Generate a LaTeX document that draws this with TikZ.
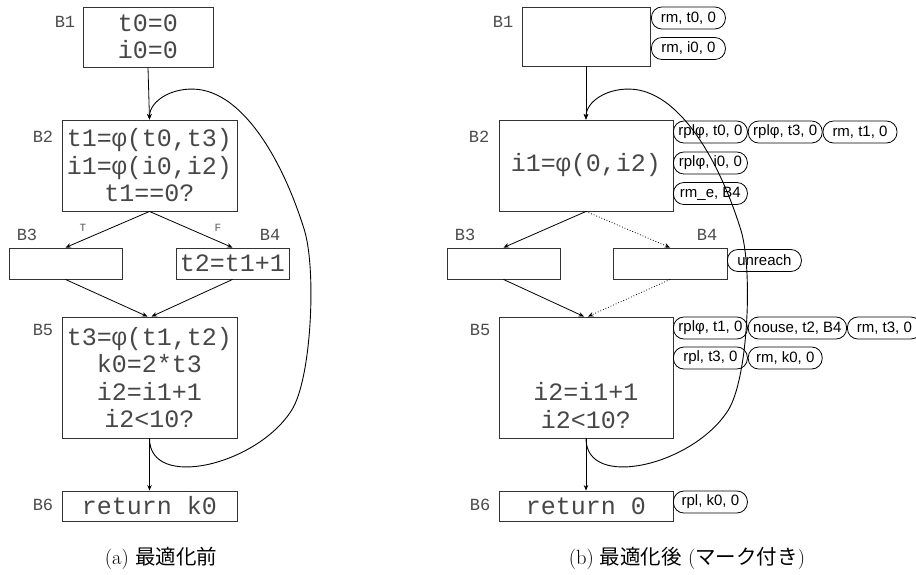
\documentclass[tikz,border=0pt]{standalone}
\usepackage{fontspec}
\usetikzlibrary{arrows.meta}
\newfontfamily\codefont{Liberation Mono}
\newfontfamily\tagfont{Liberation Sans}
\newfontfamily\jpfont{Noto Sans CJK JP}
\begin{document}
\begin{tikzpicture}[x=1pt,y=-1pt,
 blk/.style={draw=black!80, line width=0.9pt, inner sep=0pt, align=center,
   font=\codefont\fontsize{25}{27.5}\selectfont, text=black!72},
 blabel/.style={font=\codefont\fontsize{17}{18}\selectfont, text=black!70, inner sep=0pt},
 tfl/.style={font=\codefont\fontsize{11}{12}\selectfont, text=black!65, inner sep=0pt},
 tag/.style={draw, line width=0.8pt, rounded corners=10.5pt, minimum width=74pt,
   minimum height=22pt, inner xsep=5pt, inner ysep=0pt, anchor=west,
   font=\tagfont\fontsize{15}{17}\selectfont},
 edge/.style={line width=0.8pt, -{Stealth[length=5.5pt,width=4.5pt]}},
 dedge/.style={edge, dotted},
 back/.style={line width=0.9pt, -{Stealth[length=5.5pt,width=4.5pt]}},
 captext/.style={font=\fontsize{20.5}{24}\selectfont, inner sep=0pt}
]
\useasboundingbox (0,0) rectangle (916,574);

% ---------- left: before optimisation ----------
\node[blk, minimum width=130pt, minimum height=60pt] (lB1) at (148,37) {t0=0\\i0=0};
\node[blk, minimum width=175pt, minimum height=91pt] (lB2) at (149.5,165.5) {t1=φ(t0,t3)\\i1=φ(i0,i2)\\t1==0?};
\node[blk, minimum width=113pt, minimum height=31pt] (lB3) at (65.5,263.5) {};
\node[blk, minimum width=113pt, minimum height=31pt] (lB4) at (232.5,263.5) {t2=t1+1};
\node[blk, minimum width=175pt, minimum height=121pt] (lB5) at (149.5,377.5) {t3=φ(t1,t2)\\k0=2*t3\\i2=i1+1\\i2<10?};
\node[blk, minimum width=175pt, minimum height=30pt] (lB6) at (149.5,506) {return k0};

\node[blabel] (lL1) at (65,22) {B1};
\node[blabel] (lL2) at (43,137) {B2};
\node[blabel] (lL3) at (27,235) {B3};
\node[blabel] (lL4) at (270,235) {B4};
\node[blabel] (lL5) at (43,330) {B5};
\node[blabel] (lL6) at (43,505) {B6};
\node[tfl] (lT) at (83,228) {T};
\node[tfl] (lF) at (218,228) {F};

\draw[edge] (lB1.south) -- (lB2.north);
\draw[edge] (lB2.south) -- (lB3.north);
\draw[edge] (lB2.south) -- (lB4.north);
\draw[edge] (lB3.south) -- ([xshift=-2pt]lB5.north);
\draw[edge] (lB4.south) -- ([xshift=2pt]lB5.north);
\draw[edge] (lB5.south) -- (lB6.north);
\draw[back] (lB5.south) .. controls +(0,52) and +(-35,55) .. ++(142,-28)
  .. controls +(20,-31) and +(12,40) .. ++(13,-180)
  .. controls +(-20,-65) and +(48,6) .. ++(-106,-141)
  .. controls +(-27,-3) and +(0,-18) .. (lB2.north);

% ---------- right: after optimisation ----------
\node[blk, minimum width=128pt, minimum height=59pt] (rB1) at (586,36.5) {};
\node[blk, minimum width=174pt, minimum height=91pt] (rB2) at (586,165.5) {i1=φ(0,i2)};
\node[blk, minimum width=113pt, minimum height=31pt] (rB3) at (503.5,263.5) {};
\node[blk, minimum width=114pt, minimum height=31pt] (rB4) at (670,263.5) {};
\node[blk, minimum width=174pt, minimum height=121pt] (rB5) at (586,377.5) {\strut\\\strut\\i2=i1+1\\i2<10?};
\node[blk, minimum width=174pt, minimum height=30pt] (rB6) at (586,506) {return 0};

\node[blabel] (rL1) at (503,22) {B1};
\node[blabel] (rL2) at (479,137) {B2};
\node[blabel] (rL3) at (465,235) {B3};
\node[blabel] (rL4) at (707,235) {B4};
\node[blabel] (rL5) at (480,330) {B5};
\node[blabel] (rL6) at (480,505) {B6};

\draw[edge] (rB1.south) -- (rB2.north);
\draw[edge] (rB2.south) -- (rB3.north);
\draw[dedge] (rB2.south) -- (rB4.north);
\draw[edge] (rB3.south) -- ([xshift=-2pt]rB5.north);
\draw[dedge] (rB4.south) -- ([xshift=2pt]rB5.north);
\draw[edge] (rB5.south) -- (rB6.north);
\draw[back] (rB5.south) .. controls +(0,52) and +(-35,55) .. ++(142,-28)
  .. controls +(20,-31) and +(12,40) .. ++(13,-180)
  .. controls +(-20,-65) and +(48,6) .. ++(-106,-141)
  .. controls +(-27,-3) and +(0,-18) .. (rB2.north);

% tags
\node[tag] (t11) at (651,18) {rm, t0, 0};
\node[tag] (t12) at (651,48.5) {rm, i0, 0};
\node[tag] (t21) at (673,132) {rplφ, t0, 0};
\node[tag] (t22) at (t21.east) {rplφ, t3, 0};
\node[tag] (t23) at (t22.east) {rm, t1, 0};
\node[tag] (t24) at (673,163) {rplφ, i0, 0};
\node[tag] (t25) at (673,193.5) {rm\_e, B4};
\node[tag] (t41) at (727,260.5) {unreach};
\node[tag] (t51) at (673,328) {rplφ, t1, 0};
\node[tag] (t52) at (t51.east) {nouse, t2, B4};
\node[tag] (t53) at (t52.east) {rm, t3, 0};
\node[tag] (t54) at (673,358) {rpl, t3, 0};
\node[tag] (t55) at (t54.east) {rm, k0, 0};
\node[tag] (t61) at (673,502) {rpl, k0, 0};

% captions
\node[captext] (capA) at (161,558) {(a) {\jpfont 最適化前}};
\node[captext] (capB) at (687,558) {(b) {\jpfont 最適化後} ({\jpfont マーク付き})};
\end{tikzpicture}
\end{document}
